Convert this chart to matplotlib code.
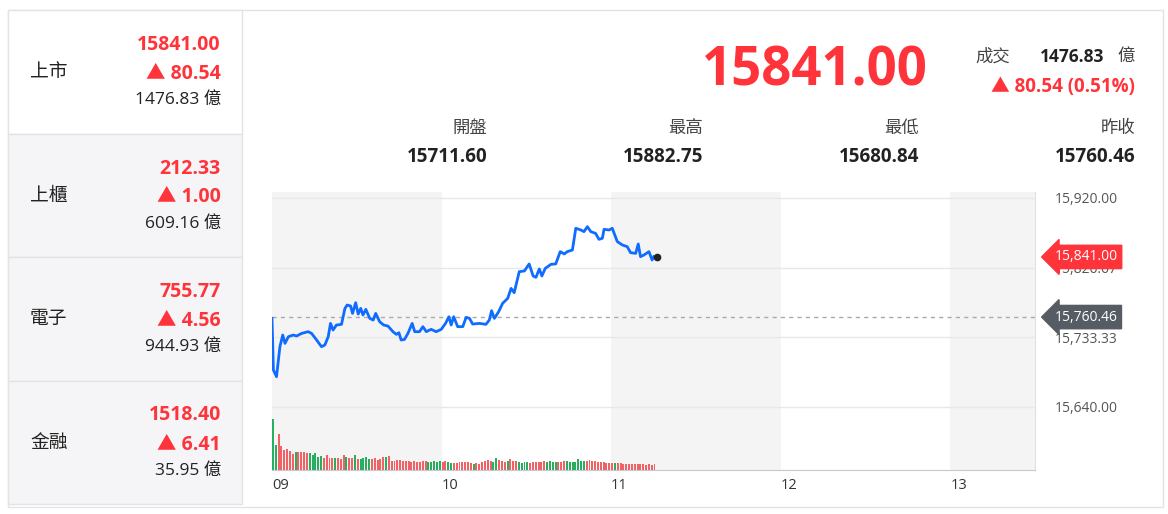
import matplotlib.pyplot as plt
import matplotlib.patches as mpatches

plt.rcParams['font.family'] = ['Open Sans', 'Noto Sans CJK TC', 'DejaVu Sans']

RED = '#ff333a'
GREEN = '#27ae60'
BLUE = '#0f6cff'

# 左側市場列表
markets = ['上市', '上櫃', '電子', '金融']
mk_price = ['15841.00', '212.33', '755.77', '1518.40']
mk_change = ['80.54', '1.00', '4.56', '6.41']
mk_amount = ['1476.83', '609.16', '944.93', '35.95']

# 頂部資訊
last_price = '15841.00'
deal_amount = '1476.83'
change_text = '▲ 80.54 (0.51%)'
stat_names = ['開盤', '最高', '最低', '昨收']
stat_values = ['15711.60', '15882.75', '15680.84', '15760.46']

prev_close = 15760.46
y_ticks = [15640.00, 15733.33, 15826.67, 15920.00]

# 走勢 (分鐘 from 09:00, 指數)
minutes = [0, 0.5, 1.6, 2.8, 3.8, 4.6, 5.8, 7.5, 8.7, 10.5, 12.8, 14.0, 15.8, 17.5, 18.7,
           19.9, 20.7, 21.6, 22.8, 24.6, 25.8, 26.6, 27.8, 28.5, 29.6, 30.5, 31.4, 32.2,
           33.2, 34.6, 35.8, 36.7, 38.1, 39.5, 41.0, 42.8, 44.0, 44.9, 45.7, 46.9, 48.1,
           49.6, 50.5, 52.2, 53.4, 54.6, 56.3, 58.1, 59.9, 61.4, 62.6, 63.4, 64.3, 65.7,
           67.5, 68.7, 69.9, 71.0, 73.4, 75.7, 76.9, 77.7, 78.7, 80.2, 81.6, 83.4, 84.6,
           85.7, 87.5, 89.3, 91.0, 92.4, 93.4, 94.6, 95.5, 96.7, 98.7, 100.4, 102.0,
           103.4, 104.5, 106.3, 107.5, 109.3, 110.4, 111.6, 112.8, 114.5, 115.7, 116.9,
           117.5, 119.3, 120.4, 122.2, 124.0, 125.7, 126.9, 128.7, 129.6, 130.4, 131.6,
           133.4, 134.5, 135.1]
prices = [15758.7, 15689.5, 15680.6, 15720.8, 15736.4, 15725.2, 15734.2, 15736.4, 15735.1,
          15738.6, 15740.9, 15738.6, 15729.7, 15720.8, 15723.0, 15734.2, 15752.0, 15743.1,
          15749.8, 15750.7, 15772.1, 15776.6, 15775.3, 15765.4, 15779.7, 15764.5, 15772.1,
          15763.2, 15770.8, 15758.7, 15756.5, 15765.4, 15754.3, 15749.8, 15748.5, 15740.9,
          15737.3, 15739.5, 15729.7, 15730.6, 15738.6, 15752.0, 15740.9, 15740.9, 15747.6,
          15740.9, 15744.0, 15740.9, 15744.0, 15752.0, 15760.9, 15749.8, 15760.9, 15747.6,
          15747.6, 15760.1, 15758.7, 15751.1, 15752.0, 15750.7, 15756.5, 15769.0, 15758.7,
          15767.7, 15778.8, 15785.5, 15798.9, 15793.1, 15821.3, 15822.2, 15831.6, 15815.5,
          15813.7, 15824.9, 15815.5, 15825.7, 15831.1, 15831.6, 15848.1, 15845.0, 15848.1,
          15850.3, 15879.4, 15877.1, 15874.9, 15881.6, 15874.9, 15872.6, 15864.6, 15866.0,
          15878.0, 15877.1, 15879.4, 15861.5, 15857.0, 15854.8, 15846.7, 15845.8, 15858.4,
          15841.4, 15843.6, 15848.1, 15836.9, 15841.4]
last_minute = 136.3

# 成交量 (每分鐘，相對高度)
volumes = [52, 25, 37, 24, 20, 21, 19, 16, 18, 18, 18, 18, 17, 17, 15, 17, 13, 14, 12, 15,
           12, 12, 12, 12, 11, 15, 13, 12, 12, 15, 11, 11, 12, 13, 11, 11, 12, 10, 11, 13,
           13, 14, 9, 9, 10, 10, 9, 9, 9, 8, 9, 8, 8, 9, 9, 8, 8, 9, 8, 9,
           8, 9, 8, 7, 7, 7, 8, 8, 8, 8, 7, 6, 7, 6, 8, 9, 10, 9, 8, 12,
           10, 9, 8, 9, 11, 9, 9, 8, 7, 8, 8, 7, 8, 8, 8, 8, 9, 8, 9, 8,
           8, 8, 8, 9, 9, 8, 8, 8, 11, 9, 9, 9, 10, 9, 9, 8, 8, 8, 7, 7,
           7, 7, 7, 7, 6, 6, 6, 6, 6, 6, 6, 6, 5, 6, 5, 6]
vol_colors = ('ggrrrrrrgrrrrgggggrrrrgrrrgrrgrggggrrr'
              'rrgrrrrrrrrrrrrrrgggggrrggrrrrrrrgrrrrrr'
              'ggrrrgrrrggggrrrrrrggggrrrgggggggrrrrrrr'
              'rrrgrrrrrrrrrrrrrrg')

W, H = 1168, 514
fig = plt.figure(figsize=(W / 100, H / 100), dpi=100)


def px(x, y):
    return x / W, 1 - y / H


def add_rect(x0, y0, x1, y1, **kw):
    fig.patches.append(mpatches.Rectangle(px(x0, y1), (x1 - x0) / W, (y1 - y0) / H,
                                          transform=fig.transFigure, zorder=-5, **kw))


add_rect(8, 10, 1163, 507, facecolor='white', edgecolor='#e3e3e3', lw=1)
cell_h = 123.5
for i, name in enumerate(markets):
    y0 = 10 + i * cell_h
    add_rect(8, y0, 242, y0 + cell_h, facecolor='white' if i == 0 else '#f5f5f7',
             edgecolor='#e3e3e3', lw=1)
    fig.text(*px(30, y0 + 62), name, fontsize=13.5, va='center', color='#222')
    fig.text(*px(221, y0 + 35), mk_price[i], fontsize=14, fontweight='bold',
             color=RED, ha='right', va='center')
    fig.text(*px(221, y0 + 64), '▲ ' + mk_change[i], fontsize=14, fontweight='bold',
             color=RED, ha='right', va='center')
    fig.text(*px(221, y0 + 90), mk_amount[i] + ' 億', fontsize=12.5,
             color='#222', ha='right', va='center')

fig.text(*px(928, 72), last_price, fontsize=38, fontweight='bold', color=RED,
         ha='right', va='center')
fig.text(*px(975, 57), '成交', fontsize=12.5, color='#444', ha='left', va='center')
fig.text(*px(1104, 57), deal_amount, fontsize=12.5, fontweight='bold', color='#222',
         ha='right', va='center')
fig.text(*px(1135, 57), '億', fontsize=12.5, color='#444', ha='right', va='center')
fig.text(*px(1135, 87), change_text, fontsize=13.5, fontweight='bold', color=RED,
         ha='right', va='center')
for i, (n, v) in enumerate(zip(stat_names, stat_values)):
    xr = 487 + i * 216
    fig.text(*px(xr, 129), n, fontsize=12.5, color='#444', ha='right', va='center')
    fig.text(*px(xr, 157), v, fontsize=13.5, fontweight='bold', color='#222',
             ha='right', va='center')

# 主圖
x0, x1, yt, yb = 272, 1035, 192, 470
ax = fig.add_axes([x0 / W, 1 - yb / H, (x1 - x0) / W, (yb - yt) / H])
ax.set_xlim(0, 270)
ax.set_ylim(15555.6, 15928)
for a, b in [(0, 60), (120, 180), (240, 270)]:
    ax.axvspan(a, b, color='#f4f4f4', lw=0, zorder=0)
for t in y_ticks:
    ax.axhline(t, color='#e8e8e8', lw=1, zorder=1)
ax.axhline(prev_close, color='#aaaaaa', lw=1, ls=(0, (3, 3)), zorder=2)
ax.plot(minutes, prices, color=BLUE, lw=2, zorder=3)
ax.plot([last_minute], [15841.0], 'o', color='#222', ms=4.5, zorder=4)
ax.set_xticks([0, 60, 120, 180, 240])
ax.set_xticklabels(['09', '10', '11', '12', '13'])
for lbl in ax.get_xticklabels():
    lbl.set_ha('left')
ax.tick_params(axis='x', length=0, labelsize=10.5, labelcolor='#333', pad=6)
ax.yaxis.tick_right()
ax.set_yticks(y_ticks)
ax.set_yticklabels([f'{t:,.2f}' for t in y_ticks])
ax.tick_params(axis='y', length=0, labelsize=10, labelcolor='#555', pad=14)
for s in ['top', 'left']:
    ax.spines[s].set_visible(False)
ax.spines['right'].set_color('#e0e0e8')
ax.spines['bottom'].set_color('#c8c8d0')

ax.annotate(f'{15841.00:,.2f}', xy=(1.0, 15841.0), xycoords=('axes fraction', 'data'),
            xytext=(14, 0), textcoords='offset points', fontsize=10, color='white',
            va='center', ha='left', zorder=6, annotation_clip=False,
            bbox=dict(boxstyle='larrow,pad=0.3', fc=RED, ec=RED))
ax.annotate(f'{prev_close:,.2f}', xy=(1.0, prev_close), xycoords=('axes fraction', 'data'),
            xytext=(14, 0), textcoords='offset points', fontsize=10, color='white',
            va='center', ha='left', zorder=6, annotation_clip=False,
            bbox=dict(boxstyle='larrow,pad=0.3', fc='#555c63', ec='#555c63'))

# 成交量
vax = fig.add_axes([x0 / W, 1 - yb / H, (x1 - x0) / W, 52 / H])
vax.patch.set_alpha(0)
vax.set_xlim(0, 270)
vax.set_ylim(0, 53)
vax.bar(range(len(volumes)), volumes, width=0.7, align='edge',
        color=[GREEN if c == 'g' else '#f06266' for c in vol_colors[:len(volumes)]])
vax.axis('off')

fig.savefig('out.png', dpi=100)
